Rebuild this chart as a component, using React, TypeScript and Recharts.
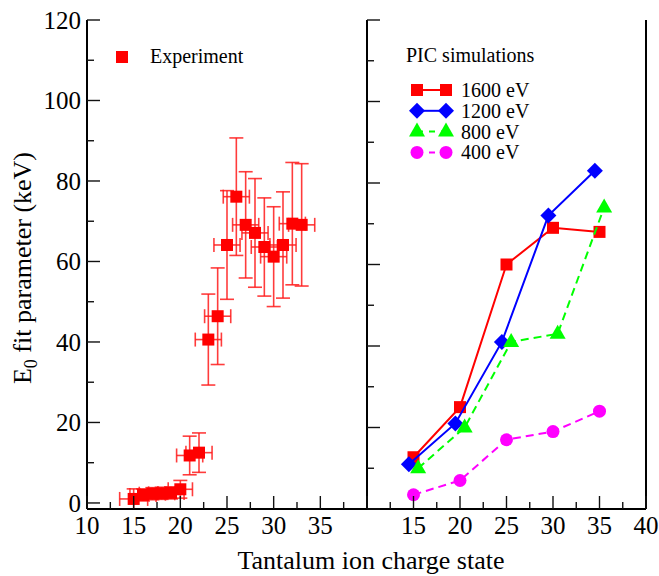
import React from 'react';
import { ScatterChart, Scatter, XAxis, YAxis, ErrorBar } from 'recharts';

// Experiment (left panel)
const expCharge = [15, 16, 17, 18, 19, 20, 21, 22, 23, 24, 25, 26, 27, 28, 29, 30, 31, 32, 33];
const expE0 = [1.0, 2.0, 2.3, 2.4, 2.5, 3.4, 11.8, 12.5, 40.6, 46.4, 64.1, 76.1, 69.1, 67.1, 63.6, 61.2, 64.1, 69.4, 69.1];
const expE0Err = [2.5, 1.5, 1.5, 1.5, 1.5, 2.2, 4.8, 4.9, 11.3, 12, 13.5, 14.6, 13.2, 13.5, 12.2, 12.4, 13.2, 15.2, 15.2];
const expChargeErr = [1.5, 1.4, 1.4, 1.4, 1.4, 1.3, 1.4, 1.4, 1.4, 1.4, 1.4, 1.4, 1.4, 1.4, 1.4, 1.4, 1.4, 1.4, 1.4];

// PIC simulations (right panel)
const picCharge1600 = [15, 20, 25, 30, 35];
const picE0_1600 = [12.7, 25, 60, 69, 68];
const picCharge1200 = [14.5, 19.5, 24.5, 29.5, 34.5];
const picE0_1200 = [11, 21, 41, 72, 83];
const picCharge800 = [15.5, 20.5, 25.5, 30.5, 35.5];
const picE0_800 = [10, 20, 41, 43, 74];
const picCharge400 = [15, 20, 25, 30, 35];
const picE0_400 = [3.5, 7, 17, 19, 24];

const yTicks = [0, 10, 20, 30, 40, 50, 60, 70, 80, 90, 100, 110, 120];
const yLabels = [0, 20, 40, 60, 80, 100, 120];
const xTicks = [10, 12.5, 15, 17.5, 20, 22.5, 25, 27.5, 30, 32.5, 35, 37.5, 40];
const leftXLabels = [10, 15, 20, 25, 30, 35];
const rightXLabels = [15, 20, 25, 30, 35, 40];

const FONT = '"Liberation Serif", "Times New Roman", serif';
const MAJOR = 13;
const MINOR = 7;
const TICK = { stroke: '#111', strokeWidth: 1.4 };

const expData = expCharge.map((x, i) => ({ x, y: expE0[i], xErr: expChargeErr[i], yErr: expE0Err[i] }));
const toPoints = (xs: number[], ys: number[]) => xs.map((x, i) => ({ x, y: ys[i] }));

const series = [
  { name: '1600 eV', color: '#ff0000', dash: undefined, data: toPoints(picCharge1600, picE0_1600), marker: 'square' },
  { name: '1200 eV', color: '#0000ff', dash: undefined, data: toPoints(picCharge1200, picE0_1200), marker: 'diamond' },
  { name: '800 eV', color: '#00ff00', dash: '8 5', data: toPoints(picCharge800, picE0_800), marker: 'triangle' },
  { name: '400 eV', color: '#ff00ff', dash: '8 5', data: toPoints(picCharge400, picE0_400), marker: 'circle' },
];

function Marker({ kind, cx, cy, color }: any) {
  if (kind === 'square') return <rect x={cx - 6} y={cy - 6} width={12} height={12} fill={color} />;
  if (kind === 'diamond') return <polygon points={`${cx},${cy - 8} ${cx + 8},${cy} ${cx},${cy + 8} ${cx - 8},${cy}`} fill={color} />;
  if (kind === 'triangle') return <polygon points={`${cx},${cy - 9} ${cx + 8},${cy + 5} ${cx - 8},${cy + 5}`} fill={color} />;
  return <circle cx={cx} cy={cy} r={6.5} fill={color} />;
}

const isMajorX = (v: number) => v % 5 === 0;
const isMajorY = (v: number) => v % 20 === 0;

function BottomTick({ x, y, payload, labels }: any) {
  const v = payload.value;
  return (
    <g>
      <line x1={x} y1={y} x2={x} y2={y - (isMajorX(v) ? MAJOR : MINOR)} {...TICK} />
      {labels.includes(v) && (
        <text x={x} y={y + 25} textAnchor="middle" fontFamily={FONT} fontSize={25} fill="#000">{v}</text>
      )}
    </g>
  );
}

function TopTick({ x, y, payload }: any) {
  const v = payload.value;
  return <line x1={x} y1={y} x2={x} y2={y + (isMajorX(v) ? MAJOR : MINOR)} {...TICK} />;
}

function LeftTick({ x, y, payload, showLabels }: any) {
  const v = payload.value;
  return (
    <g>
      <line x1={x} y1={y} x2={x + (isMajorY(v) ? MAJOR : MINOR)} y2={y} {...TICK} />
      {showLabels && isMajorY(v) && (
        <text x={x - 6} y={y + 9} textAnchor="end" fontFamily={FONT} fontSize={25} fill="#000">{v}</text>
      )}
    </g>
  );
}

function RightTick({ x, y, payload }: any) {
  const v = payload.value;
  return <line x1={x} y1={y} x2={x - (isMajorY(v) ? MAJOR : MINOR)} y2={y} {...TICK} />;
}

const axisLine = { stroke: '#000', strokeWidth: 2 };

function Frame({ labels, yLabelsOn, leftWidth }: { labels: number[]; yLabelsOn: boolean; leftWidth: number }) {
  return [
    <XAxis key="b" xAxisId={0} type="number" dataKey="x" domain={[10, 40]} ticks={xTicks} interval={0}
      height={67} tickSize={0} tickMargin={0} tickLine={false} axisLine={axisLine}
      tick={(p: any) => <BottomTick {...p} labels={labels} />} />,
    <XAxis key="t" xAxisId="t" orientation="top" type="number" domain={[10, 40]} ticks={xTicks} interval={0}
      height={0} tickSize={0} tickMargin={0} tickLine={false} axisLine={axisLine}
      tick={(p: any) => <TopTick {...p} />} />,
    <YAxis key="l" yAxisId={0} type="number" dataKey="y" domain={[0, 120]} ticks={yTicks} interval={0}
      width={leftWidth} tickSize={0} tickMargin={0} tickLine={false} axisLine={axisLine}
      tick={(p: any) => <LeftTick {...p} showLabels={yLabelsOn} />} />,
    <YAxis key="r" yAxisId="r" orientation="right" type="number" domain={[0, 120]} ticks={yTicks} interval={0}
      width={13} tickSize={0} tickMargin={0} tickLine={false} axisLine={axisLine}
      tick={(p: any) => <RightTick {...p} />} />,
  ];
}

export default function App() {
  return (
    <div style={{ position: 'absolute', left: 0, top: 0, width: 659, height: 576, background: '#fff' }}>
      <div style={{ position: 'absolute', left: 0, top: 0 }}>
        <ScatterChart width={380} height={576} margin={{ top: 20, right: 0, bottom: 0, left: 0 }}>
          {Frame({ labels: leftXLabels, yLabelsOn: true, leftWidth: 87 })}
          <Scatter data={expData} isAnimationActive={false}
            shape={(p: any) => <Marker kind="square" cx={p.cx} cy={p.cy} color="#ff0000" />}>
            <ErrorBar dataKey="yErr" direction="y" width={7} stroke="#ff1a1a" strokeWidth={1.6} strokeOpacity={0.85} />
            <ErrorBar dataKey="xErr" direction="x" width={7} stroke="#ff1a1a" strokeWidth={1.6} strokeOpacity={0.85} />
          </Scatter>
        </ScatterChart>
      </div>
      <div style={{ position: 'absolute', left: 347, top: 0 }}>
        <ScatterChart width={312} height={576} margin={{ top: 20, right: 0, bottom: 0, left: 0 }}>
          {Frame({ labels: rightXLabels, yLabelsOn: false, leftWidth: 20 })}
          {series.map((s) => (
            <Scatter key={s.name} name={s.name} data={s.data} isAnimationActive={false}
              line={{ stroke: s.color, strokeWidth: 2, strokeDasharray: s.dash }}
              shape={(p: any) => <Marker kind={s.marker} cx={p.cx} cy={p.cy} color={s.color} />} />
          ))}
        </ScatterChart>
      </div>
      <svg width={659} height={576} style={{ position: 'absolute', left: 0, top: 0, pointerEvents: 'none' }}
        fontFamily={FONT}>
        {/* left legend */}
        <Marker kind="square" cx={122} cy={57} color="#ff0000" />
        <text x={150} y={63} fontSize={20}>Experiment</text>
        {/* right legend */}
        <text x={406} y={62} fontSize={20}>PIC simulations</text>
        {series.map((s, i) => {
          const cy = 90 + i * 20.8;
          return (
            <g key={s.name}>
              <line x1={417} y1={cy} x2={446} y2={cy} stroke={s.color} strokeWidth={2} strokeDasharray={s.dash ? '6 6' : undefined} />
              <Marker kind={s.marker} cx={417} cy={cy} color={s.color} />
              <Marker kind={s.marker} cx={446} cy={cy} color={s.color} />
              <text x={461} y={cy + 7} fontSize={20}>{s.name}</text>
            </g>
          );
        })}
        {/* axis titles */}
        <text transform="translate(31,268) rotate(-90)" textAnchor="middle" fontSize={26}>
          E<tspan dy={6} fontSize={18}>0</tspan><tspan dy={-6}> fit parameter (keV)</tspan>
        </text>
        <text x={371} y={569} textAnchor="middle" fontSize={26}>Tantalum ion charge state</text>
      </svg>
    </div>
  );
}
